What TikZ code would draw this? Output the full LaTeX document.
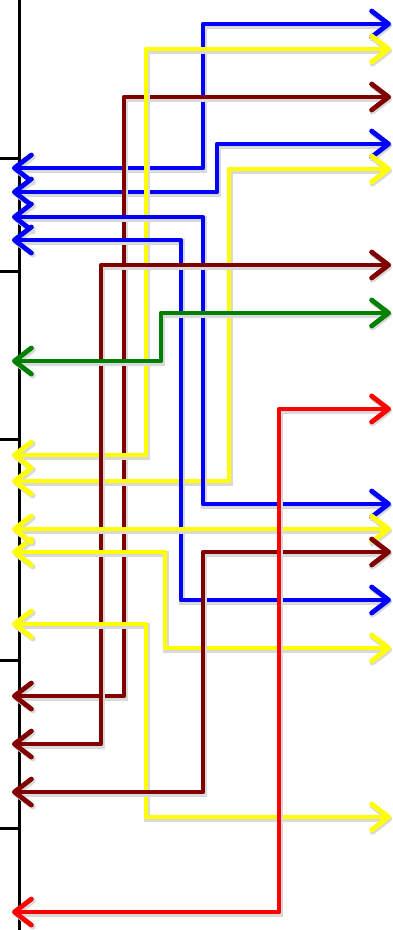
\documentclass[tikz,border=0pt]{standalone}
\usetikzlibrary{arrows.meta}
\definecolor{cblue}{RGB}{0,0,255}
\definecolor{cyellow}{RGB}{255,255,0}
\definecolor{cmaroon}{RGB}{128,0,0}
\definecolor{cgreen}{RGB}{0,128,0}
\definecolor{cred}{RGB}{255,0,0}
\tikzset{
  link/.style={line width=4.8pt, line join=round,
    arrows={Straight Barb[length=17pt,width=26pt,round]-Straight Barb[length=17pt,width=26pt,round]},
    preaction={draw=black!15, line width=5.5pt, transform canvas={shift={(1.2pt,-1.8pt)}}}},
  axis/.style={line width=3pt, black},
}
\begin{document}
\begin{tikzpicture}[x=1pt,y=-1pt]
\useasboundingbox (0,0) rectangle (393,930);
% axis and ticks
\draw[axis] (19,-2) -- (19,932);
\foreach \t in {158,271,439,660,828} \draw[axis] (0,\t) -- (19,\t);
% left and right end coordinates
\coordinate (L1) at (12,168);  \coordinate (R1) at (391,24);  \coordinate (c1) at (203,24);
\coordinate (L2) at (12,455);  \coordinate (R2) at (391,49);  \coordinate (c2) at (146,49);
\coordinate (L3) at (12,696);  \coordinate (R3) at (391,97);  \coordinate (c3) at (124,97);
\coordinate (L4) at (12,192);  \coordinate (R4) at (391,144); \coordinate (c4) at (217,144);
\coordinate (L5) at (12,481);  \coordinate (R5) at (391,169); \coordinate (c5) at (229,169);
\coordinate (L6) at (12,217);  \coordinate (R6) at (391,504); \coordinate (c6) at (203,217);
\coordinate (L7) at (12,240);  \coordinate (R7) at (391,600); \coordinate (c7) at (181,240);
\coordinate (L8) at (12,744);  \coordinate (R8) at (391,265); \coordinate (c8) at (101,265);
\coordinate (L9) at (12,361);  \coordinate (R9) at (391,313); \coordinate (c9) at (161,313);
\coordinate (L10) at (12,912); \coordinate (R10) at (391,409); \coordinate (c10) at (279,409);
\coordinate (L11) at (12,529); \coordinate (R11) at (391,529);
\coordinate (L12) at (12,552); \coordinate (R12) at (391,648); \coordinate (c12) at (165,552);
\coordinate (L13) at (12,792); \coordinate (R13) at (391,552); \coordinate (c13) at (203,552);
\coordinate (L14) at (12,624); \coordinate (R14) at (391,817); \coordinate (c14) at (146,624);
% connectors
\draw[link, cblue]   (L1) -| (c1) -- (R1);
\draw[link, cblue]   (L4) -| (c4) -- (R4);
\draw[link, cmaroon] (L3) -| (c3) -- (R3);
\draw[link, cyellow] (L2) -| (c2) -- (R2);
\draw[link, cyellow] (L5) -| (c5) -- (R5);
\draw[link, cblue]   (L6) -- (c6) |- (R6);
\draw[link, cblue]   (L7) -- (c7) |- (R7);
\draw[link, cmaroon] (L8) -| (c8) -- (R8);
\draw[link, cgreen]  (L9) -| (c9) -- (R9);
\draw[link, cyellow] (L14) -- (c14) |- (R14);
\draw[link, cyellow] (L12) -- (c12) |- (R12);
\draw[link, cyellow] (L11) -- (R11);
\draw[link, cmaroon] (L13) -| (c13) -- (R13);
\draw[link, cred]    (L10) -| (c10) -- (R10);
\end{tikzpicture}
\end{document}
